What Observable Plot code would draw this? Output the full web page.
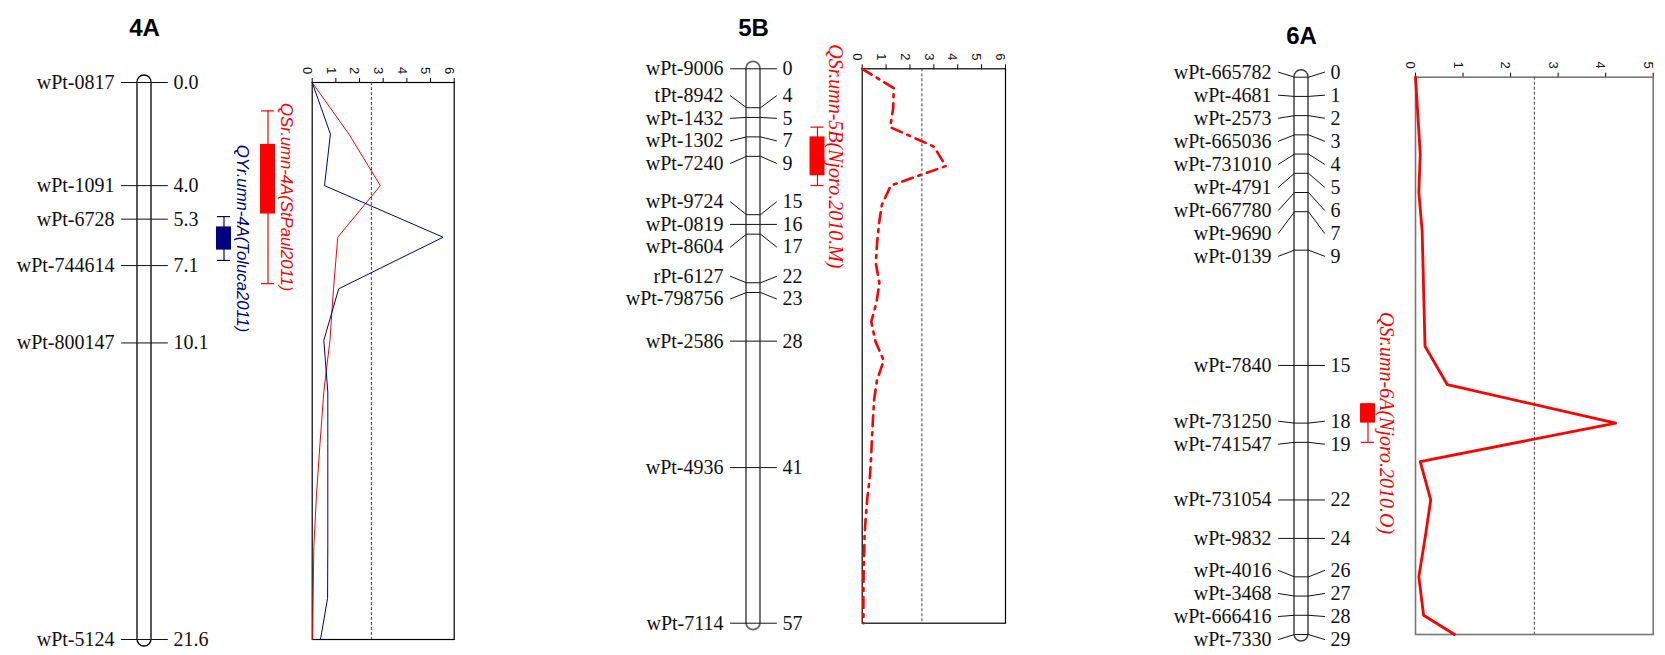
<!DOCTYPE html>
<html>
<head>
<meta charset="utf-8">
<script src="https://cdn.jsdelivr.net/npm/d3@7"></script>
<script src="https://cdn.jsdelivr.net/npm/@observablehq/plot@0.6"></script>
<style>
  body { margin: 0; background: #fff; }
  #fig { position: relative; width: 1665px; height: 655px; overflow: hidden; background: #fff; }
  #fig svg { position: absolute; left: 0; top: 0; }
</style>
</head>
<body>
<div id="fig"></div>
<script>
// ---- Linkage maps: marker names and positions (cM) ----
const markers4A = ["wPt-0817", "wPt-1091", "wPt-6728", "wPt-744614", "wPt-800147", "wPt-5124"];
const pos4A = [0.0, 4.0, 5.3, 7.1, 10.1, 21.6];

const markers5B = ["wPt-9006", "tPt-8942", "wPt-1432", "wPt-1302", "wPt-7240", "wPt-9724", "wPt-0819",
  "wPt-8604", "rPt-6127", "wPt-798756", "wPt-2586", "wPt-4936", "wPt-7114"];
const pos5B = [0, 4, 5, 7, 9, 15, 16, 17, 22, 23, 28, 41, 57];

const markers6A = ["wPt-665782", "wPt-4681", "wPt-2573", "wPt-665036", "wPt-731010", "wPt-4791", "wPt-667780",
  "wPt-9690", "wPt-0139", "wPt-7840", "wPt-731250", "wPt-741547", "wPt-731054", "wPt-9832", "wPt-4016",
  "wPt-3468", "wPt-666416", "wPt-7330"];
const pos6A = [0, 1, 2, 3, 4, 5, 6, 7, 9, 15, 18, 19, 22, 24, 26, 27, 28, 29];

// ---- LOD scans (scan position in cM, LOD score) ----
const scan4A = [0, 2, 4, 6, 8, 10, 12, 14, 16, 18, 20, 21.6];
const lodStPaul2011 = [0, 1.55, 2.88, 1.08, 0.9, 0.75, 0.49, 0.33, 0.18, 0.07, 0.04, 0.02];
const lodToluca2011 = [0, 0.77, 0.52, 5.53, 1.12, 0.49, 0.66, 0.66, 0.66, 0.66, 0.65, 0.35];

const scan5B = [0, 2, 4, 6, 8, 10, 12, 14, 16, 18, 20, 22, 24, 26, 28, 30, 32, 34, 36, 38, 40, 42, 44, 46, 48, 50, 52, 54, 56, 57];
const lodNjoro2010M = [0, 1.32, 1.3, 1.17, 3.0, 3.5, 1.2, 0.82, 0.7, 0.62, 0.57, 0.72, 0.6, 0.38, 0.55, 0.9,
  0.62, 0.5, 0.45, 0.41, 0.37, 0.32, 0.22, 0.15, 0.1, 0.08, 0.06, 0.05, 0.05, 0.05];

const scan6A = [0, 2, 4, 6, 8, 10, 12, 14, 16, 18, 20, 22, 24, 26, 28, 29];
const lodNjoro2010O = [0, 0.05, 0.1, 0.07, 0.14, 0.16, 0.18, 0.2, 0.67, 4.21, 0.1, 0.32, 0.2, 0.07, 0.17, 0.82];

const lodThreshold = 2.5;
const lodTicks6 = [0, 1, 2, 3, 4, 5, 6];
const lodTicks5 = [0, 1, 2, 3, 4, 5];

// ---- QTL support intervals (cM): outer whisker and inner box ----
const qtlNames = ["QSr.umn-4A(StPaul2011)", "QYr.umn-4A(Toluca2011)", "QSr.umn-5B(Njoro.2010.M)", "QSr.umn-6A(Njoro.2010.O)"];
const qtlOuterStart = [1.1, 5.2, 6, 17];
const qtlBoxStart = [2.4, 5.6, 7, 17];
const qtlBoxEnd = [5.1, 6.5, 11, 18];
const qtlOuterEnd = [7.8, 6.9, 12, 19];

// ---- drawing ----
const W = 1665, H = 655;
const RED = "#ff0000", NAVY = "#000080";
const SERIF = "'Liberation Serif', 'Times New Roman', serif";
const SANS = "'Liberation Sans', Arial, sans-serif";

const panels = [
  {
    title: "4A", titleY: 18.5, names: markers4A, pos: pos4A, digits: 1, max: 21.6,
    yTop: 82, yBottom: 639, cx: 144, chromStroke: "#000", chromWidth: 1.3, labelGap: 23,
    lod: {x0: 311.7, x1: 453.7, max: 6, ticks: lodTicks6, frame: "#000", frameWidth: 1.2},
    curves: [
      {scan: scan4A, lod: lodStPaul2011, color: RED, width: 1},
      {scan: scan4A, lod: lodToluca2011, color: NAVY, width: 1}
    ],
    qtls: [
      {i: 1, cx: 223.5, color: NAVY, font: SANS, size: 16.7},
      {i: 0, cx: 267.5, color: RED, font: SANS, size: 16.7}
    ]
  },
  {
    title: "5B", titleY: 18.5, names: markers5B, pos: pos5B, digits: 0, max: 57,
    yTop: 68.3, yBottom: 622.7, cx: 753, chromStroke: "#666", chromWidth: 1.8, labelGap: 22.5,
    lod: {x0: 861.7, x1: 1005, max: 6, ticks: lodTicks6, frame: "#000", frameWidth: 1.2},
    curves: [
      {scan: scan5B, lod: lodNjoro2010M, color: RED, width: 2.6, dash: "11,6,3,6"}
    ],
    qtls: [
      {i: 2, cx: 817, color: RED, font: SERIF, size: 20}
    ]
  },
  {
    title: "6A", titleY: 26.5, names: markers6A, pos: pos6A, digits: 0, max: 29,
    yTop: 76.7, yBottom: 634, cx: 1301, chromStroke: "#444", chromWidth: 1.5, labelGap: 23,
    lod: {x0: 1415, x1: 1652.7, max: 5, ticks: lodTicks5, frame: "#777", frameWidth: 1.6},
    curves: [
      {scan: scan6A, lod: lodNjoro2010O, color: RED, width: 2.8}
    ],
    qtls: [
      {i: 3, cx: 1367.5, color: RED, font: SERIF, size: 20}
    ]
  }
];

// Push overlapping marker labels apart (positions in cM), keeping each
// group centred on its markers and inside [lo, hi].
function spreadLabels(pos, gap, lo, hi) {
  const blocks = [];
  for (const p of pos) {
    blocks.push({sum: p, n: 1, start: p});
    for (;;) {
      const b = blocks[blocks.length - 1];
      b.start = Math.max(lo, Math.min(hi - (b.n - 1) * gap, b.sum / b.n - (b.n - 1) * gap / 2));
      const a = blocks[blocks.length - 2];
      if (a && a.start + a.n * gap > b.start + 1e-9) {
        a.sum += b.sum; a.n += b.n; blocks.pop();
      } else break;
    }
  }
  return blocks.flatMap(b => d3.range(b.n).map(k => b.start + k * gap));
}

const svgStyle = {background: "transparent", overflow: "visible"};

function mapPlot(p) {
  const k = (p.yBottom - p.yTop) / p.max;           // px per cM
  const half = 7;                                     // chromosome half-width (px)
  const cl = p.cx - half, cr = p.cx + half;
  const xl = cl - 16, xr = cr + 16;
  const at = spreadLabels(p.pos, p.labelGap / k, -5 / k, p.max + 5 / k);
  const rows = p.names.map((name, i) => ({name, pos: p.pos[i], at: at[i], value: p.pos[i].toFixed(p.digits)}));
  const connectors = rows.flatMap(r => [
    {name: r.name, x: xl, y: r.at},
    {name: r.name, x: cl, y: r.pos},
    {name: r.name, x: cr, y: r.pos},
    {name: r.name, x: xr, y: r.at}
  ]);

  const qtlMarks = p.qtls.flatMap(q => {
    const d = {
      name: qtlNames[q.i], lo: qtlOuterStart[q.i], hi: qtlOuterEnd[q.i],
      b0: qtlBoxStart[q.i], b1: qtlBoxEnd[q.i]
    };
    d.mid = (d.lo + d.hi) / 2;
    return [
      Plot.ruleX([d], {x: q.cx, y1: "lo", y2: "hi", stroke: q.color, strokeWidth: 1.2}),
      Plot.ruleY([d], {y: "lo", x1: q.cx - 6.5, x2: q.cx + 6.5, stroke: q.color, strokeWidth: 1.2}),
      Plot.ruleY([d], {y: "hi", x1: q.cx - 6.5, x2: q.cx + 6.5, stroke: q.color, strokeWidth: 1.2}),
      Plot.rect([d], {x1: q.cx - 7.5, x2: q.cx + 7.5, y1: "b0", y2: "b1", fill: q.color}),
      Plot.text([d], {
        x: q.cx + 18, y: "mid", text: "name", rotate: 90, fill: q.color,
        fontFamily: q.font, fontSize: q.size, fontStyle: "italic"
      })
    ];
  });

  return Plot.plot({
    width: W, height: H,
    marginTop: p.yTop, marginBottom: H - p.yBottom, marginLeft: 0, marginRight: 0,
    style: svgStyle,
    x: {type: "identity", axis: null},
    y: {domain: [0, p.max], reverse: true, axis: null},
    marks: [
      Plot.rect([p], {
        x1: cl, x2: cr, y1: 0, y2: p.max, rx: half,
        insetTop: -half, insetBottom: -half,
        fill: "white", stroke: p.chromStroke, strokeWidth: p.chromWidth
      }),
      Plot.line(connectors, {x: "x", y: "y", z: "name", stroke: "#111", strokeWidth: 1}),
      Plot.text(rows, {x: xl - 7, y: "at", text: "name", textAnchor: "end", fill: "#111", fontFamily: SERIF, fontSize: 20}),
      Plot.text(rows, {x: xr + 6, y: "at", text: "value", textAnchor: "start", fill: "#111", fontFamily: SERIF, fontSize: 20}),
      Plot.text([p.title], {
        x: p.cx, frameAnchor: "top", dy: p.titleY - p.yTop, text: d => d,
        fontFamily: SANS, fontWeight: "bold", fontSize: 24, fill: "#000"
      }),
      ...qtlMarks
    ]
  });
}

function lodPlot(p) {
  const L = p.lod;
  return Plot.plot({
    width: W, height: H,
    marginTop: p.yTop, marginBottom: H - p.yBottom, marginLeft: L.x0, marginRight: W - L.x1,
    style: svgStyle,
    x: {domain: [0, L.max], axis: "top", ticks: L.ticks, tickSize: 5, tickFormat: () => "", label: null},
    y: {domain: [0, p.max], reverse: true, axis: null},
    marks: [
      Plot.frame({stroke: L.frame, strokeWidth: L.frameWidth}),
      Plot.ruleX([lodThreshold], {stroke: "#444", strokeWidth: 1, strokeDasharray: "3,2"}),
      ...p.curves.map(c => Plot.line(
        c.scan.map((cM, i) => ({cM, lod: c.lod[i]})),
        {x: "lod", y: "cM", stroke: c.color, strokeWidth: c.width, strokeDasharray: c.dash ?? null}
      )),
      Plot.text(L.ticks, {
        x: d => d, frameAnchor: "top", dy: -12, text: d => String(d), rotate: 90,
        fontFamily: SANS, fontSize: 13, fill: "#111"
      })
    ]
  });
}

const fig = document.getElementById("fig");
for (const p of panels) {
  fig.appendChild(mapPlot(p));
  fig.appendChild(lodPlot(p));
}
</script>
</body>
</html>
